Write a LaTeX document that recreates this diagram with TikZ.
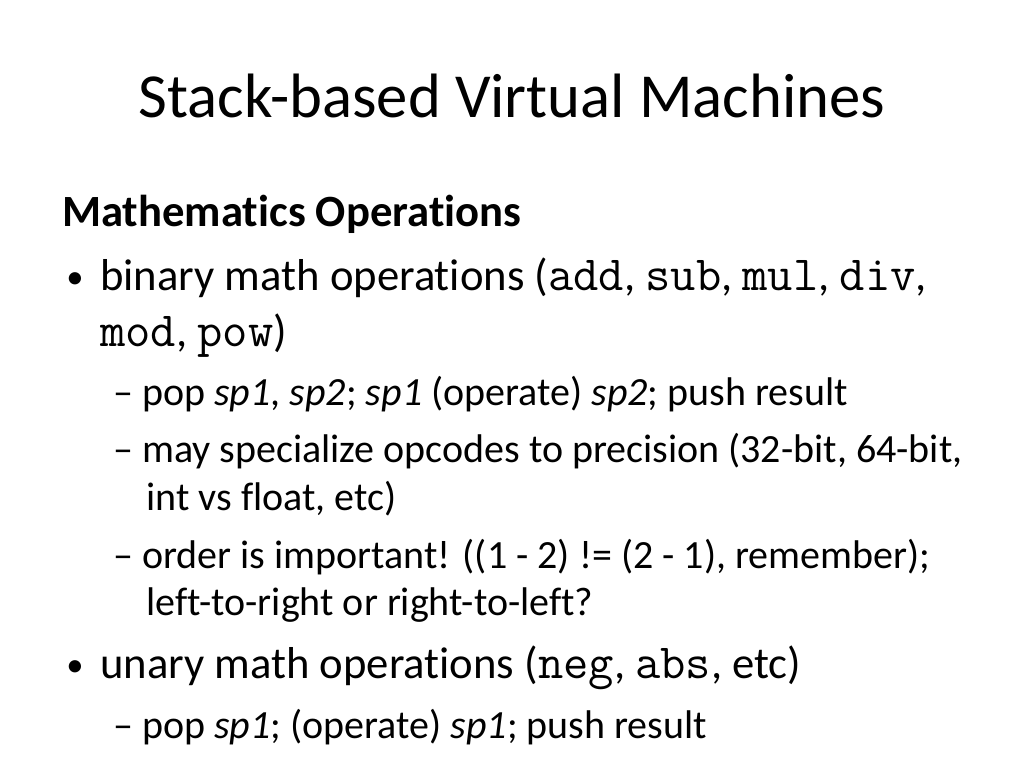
\documentclass[tikz,border=0pt]{standalone}
\usepackage{fontspec}
\setmainfont{Carlito}[Ligatures=NoCommon]
\setmonofont{Latin Modern Mono}[Scale=1.1]
\begin{document}
\begin{tikzpicture}[x=0.75pt,y=0.75pt,yscale=-1,xscale=1,
  lone/.style={anchor=base west,inner sep=0pt,font=\fontsize{33.5}{38}\selectfont},
  ltwo/.style={anchor=base west,inner sep=0pt,font=\fontsize{30}{34}\selectfont},
  dot/.style={anchor=base west,inner sep=0pt,font=\fontsize{26}{30}\selectfont}]
\useasboundingbox (0,0) rectangle (1024,768);

% Title
\node [anchor=base,inner sep=0pt,font=\fontsize{47}{54}\selectfont] (title) at (512,117) {Stack-based Virtual Machines};

% Heading
\node [lone] (head) at (62,226) {\textbf{Mathematics Operations}};
% Binary
\node [dot] (bdot) at (66,288) {•};
\node [lone] (bin) at (100,290) {binary math operations (\texttt{add}, \texttt{sub}, \texttt{mul}, \texttt{div},};
\node [lone] (binb) at (100,346) {\texttt{mod}, \texttt{pow})};
\node [ltwo] (pop) at (113,405) {– pop \textit{sp1}, \textit{sp2}; \textit{sp1} (operate) \textit{sp2}; push result};
\node [ltwo] (spec) at (113,462) {– may specialize opcodes to precision (32-bit, 64-bit,};
\node [ltwo] (specb) at (146,510) {int vs float, etc)};
\node [ltwo] (ord) at (113,568) {– order is important! ((1 - 2) != (2 - 1), remember);};
\node [ltwo] (ordb) at (146,615) {left-to-right or right-to-left?};
% Unary
\node [dot] (udot) at (66,676) {•};
\node [lone] (una) at (100,678) {unary math operations (\texttt{neg}, \texttt{abs}, etc)};
\node [ltwo] (upop) at (113,738) {– pop \textit{sp1}; (operate) \textit{sp1}; push result};
\end{tikzpicture}
\end{document}
